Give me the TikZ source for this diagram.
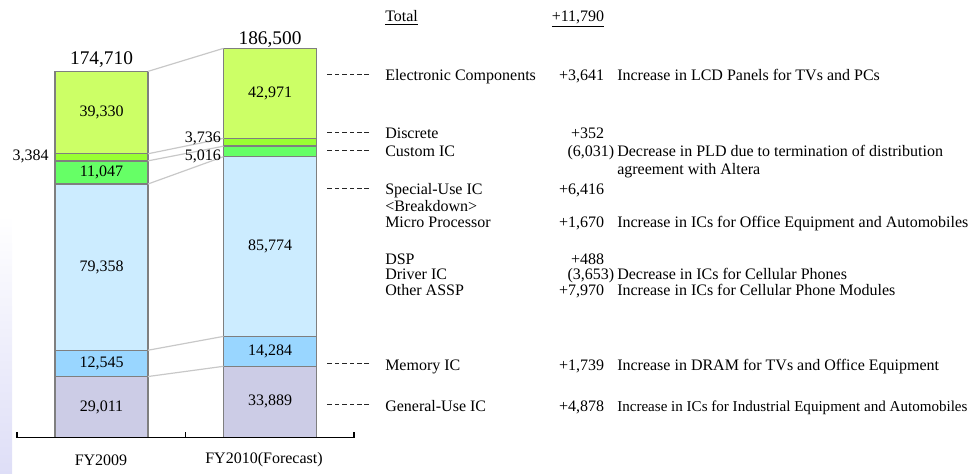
\documentclass[tikz,border=0pt]{standalone}
\usepackage{fontspec}
\setmainfont{Liberation Serif}
\usetikzlibrary{positioning}

\definecolor{ecomp}{HTML}{CCFF66}
\definecolor{disc}{HTML}{99FF33}
\definecolor{cusic}{HTML}{66FF66}
\definecolor{spic}{HTML}{CCECFF}
\definecolor{memic}{HTML}{99D6FF}
\definecolor{genic}{HTML}{CCCCE6}
\definecolor{barline}{HTML}{7F7F7F}
\definecolor{linkgray}{HTML}{C8C8C8}
\definecolor{lav}{HTML}{DEDEF7}

\tikzset{
  seg/.style={draw=barline, line width=1.1pt, minimum width=69.75pt,
              inner sep=0pt, outer sep=0pt},
  link/.style={draw=linkgray, line width=0.9pt},
  leader/.style={draw=black!85, line width=0.6pt, dash pattern=on 3.4pt off 2.2pt},
  item/.style={anchor=base west, inner sep=0pt},
  amount/.style={anchor=base east, inner sep=0pt},
  note/.style={anchor=base west, inner sep=0pt},
  total/.style={font=\fontsize{14.5}{17}\selectfont, anchor=base, inner sep=0pt},
  side/.style={anchor=base east, inner sep=0pt},
}

\begin{document}
\begin{tikzpicture}[x=0.75pt, y=-0.75pt, font=\fontsize{12}{14}\selectfont]
    \useasboundingbox (0,0) rectangle (971,474);
    \shade[top color=white, bottom color=lav] (0,215) rectangle (12,474); % slide edge

    \def\sc{2.0949} % px per thousand
    \coordinate (l0) at (101.5,437.3); % foot of FY2009
    \coordinate (r0) at (270,437.3);   % foot of FY2010
    \foreach \v/\c/\t [count=\i, remember=\i as \j (initially 0)] in
      {29.011/genic/{29,011}, 12.545/memic/{12,545}, 79.358/spic/{79,358},
       11.047/cusic/{11,047}, 3.384/disc/{}, 39.330/ecomp/{39,330}}
    {
    \node[seg, fill=\c, minimum height=\v*\sc*0.75pt, above=0pt of l\j] (l\i) {\t};
    }
    \foreach \v/\c/\t [count=\i, remember=\i as \j (initially 0)] in
      {33.889/genic/{33,889}, 14.284/memic/{14,284}, 85.774/spic/{85,774},
       5.016/cusic/{}, 3.736/disc/{}, 42.971/ecomp/{42,971}}
    {
    \node[seg, fill=\c, minimum height=\v*\sc*0.75pt, above=0pt of r\j] (r\i) {\t};
    }

    \foreach \i in {1,...,6}
        \draw[link] (l\i.north east) -- (r\i.north west);

    \node[total] (totA) at ([yshift=5.2pt]l6.north) {174,710};
    \node[total] (totB) at ([yshift=3.2pt]r6.north) {186,500};
    \node[side] (vDisA) at ([shift={(-6,3)}]l5.west) {3,384};
    \node[side] (vDisB) at ([shift={(-2.3,0)}]r5.west) {3,736};
    \node[side] (vCusB) at ([shift={(-2.3,9)}]r4.west) {5,016};

    % axis
    \draw[line width=1.1pt] (17,432) -- (17,437.3) -- (354,437.3) -- (354,432);
    \draw[line width=1.1pt] (185.7,437.3) -- (185.7,432);
    \node (fyA) at (101,460) {FY2009};
    \node (fyB) at (264,460) {FY2010(Forecast)};

    % breakdown of the change
    \node[item] (iTot) at (385,22) {\underline{Total}};
    \node[amount] (aTot) at (604.5,22) {\underline{+11,790}};

    \node[item] (iEC) at (385,81) {Electronic Components};
    \node[amount] (aEC) at (604.5,81) {+3,641};
    \node[note] (nEC) at (617,81) {Increase in LCD Panels for TVs and PCs};

    \node[item] (iDis) at (385,139) {Discrete};
    \node[amount] (aDis) at (604.5,139) {+352};

    \node[item] (iCus) at (385,157) {Custom IC};
    \node[amount] (aCus) at (614.5,157) {(6,031)};
    \node[note] (nCus) at (617,157) {Decrease in PLD due to termination of distribution};
    \node[note] (nCusB) at (617,175) {agreement with Altera};

    \node[item] (iSpe) at (385,195) {Special-Use IC};
    \node[amount] (aSpe) at (604.5,195) {+6,416};
    \node[item] (iBrk) at (385,211.5) {<Breakdown>};
    \node[item] (iMP) at (385,228) {Micro Processor};
    \node[amount] (aMP) at (604.5,228) {+1,670};
    \node[note] (nMP) at (617,228) {Increase in ICs for Office Equipment and Automobiles};
    \node[item] (iDSP) at (385,264) {DSP};
    \node[amount] (aDSP) at (604.5,264) {+488};
    \node[item] (iDrv) at (385,279.5) {Driver IC};
    \node[amount] (aDrv) at (614.5,279.5) {(3,653)};
    \node[note] (nDrv) at (617,279.5) {Decrease in ICs for Cellular Phones};
    \node[item] (iAS) at (385,295) {Other ASSP};
    \node[amount] (aAS) at (604.5,295) {+7,970};
    \node[note] (nAS) at (617,295) {Increase in ICs for Cellular Phone Modules};

    \node[item] (iMem) at (385,370) {Memory IC};
    \node[amount] (aMem) at (604.5,370) {+1,739};
    \node[note] (nMem) at (617,370) {Increase in DRAM for TVs and Office Equipment};

    \node[item] (iGen) at (385,411) {General-Use IC};
    \node[amount] (aGen) at (604.5,411) {+4,878};
    \node[note, font=\fontsize{11.3}{13}\selectfont] (nGen) at (617,411)
        {Increase in ICs for Industrial Equipment and Automobiles};

    \foreach \n in {iEC,iDis,iCus,iSpe,iMem,iGen}
        \draw[leader] ([shift={(-16,-7)}]\n.base west) -- ++(-44.5,0);
\end{tikzpicture}
\end{document}
